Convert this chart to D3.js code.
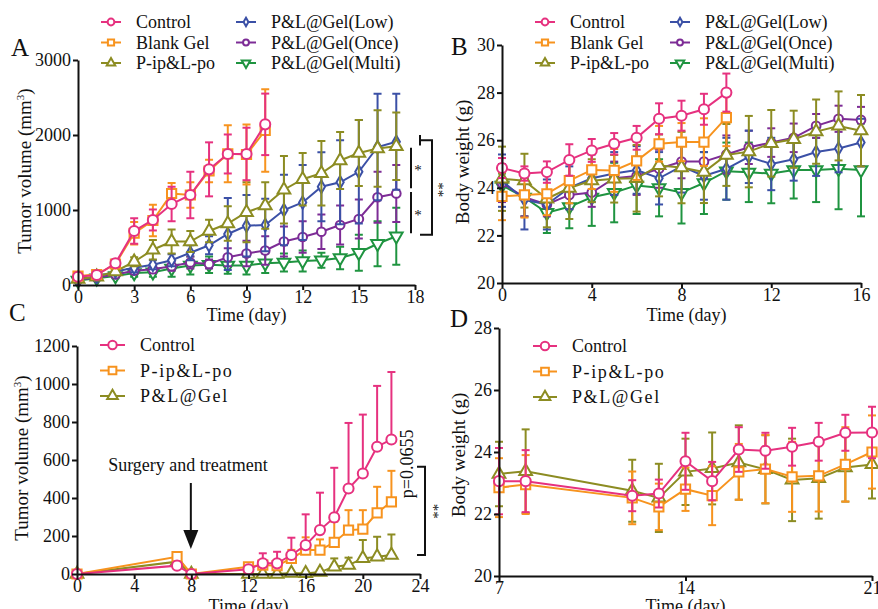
<!DOCTYPE html>
<html>
<head>
<meta charset="utf-8">
<script src="https://cdn.jsdelivr.net/npm/d3@7"></script>
<style>
  body { margin: 0; background: #fff; }
  svg text { font-family: "Liberation Serif", "DejaVu Serif", "Times New Roman", serif; fill: #111; }
</style>
</head>
<body>
<div class="canvas"></div>
<script>
// ---------- data ----------
// panel A: tumor volume (mm3) by day
const daysA = d3.range(0, 18);
const ctrlA = [111, 133, 290, 720, 867, 1080, 1200, 1542, 1747, 1747, 2142];
const ctrlAErr = [30, 30, 50, 170, 140, 230, 310, 360, 260, 350, 410];
const blankA = [120, 140, 280, 690, 860, 1220, 1200, 1520, 1750, 1740, 2060];
const blankAErr = [30, 30, 40, 150, 210, 140, 170, 150, 380, 400, 550];
const pipA = [80, 110, 180, 310, 470, 580, 580, 720, 820, 970, 1060, 1270, 1410, 1490, 1660, 1760, 1820, 1850];
const pipAErr = [20, 20, 30, 60, 130, 160, 140, 150, 230, 400, 310, 450, 350, 430, 380, 440, 510, 450];
const lowA = [80, 110, 180, 230, 270, 330, 430, 530, 680, 790, 800, 1000, 1100, 1310, 1370, 1510, 1840, 1910];
const lowAErr = [20, 20, 30, 60, 60, 80, 100, 120, 480, 410, 350, 470, 500, 460, 560, 690, 710, 640];
const onceA = [70, 100, 140, 190, 210, 250, 300, 280, 370, 420, 460, 580, 640, 710, 800, 880, 1170, 1220];
const onceAErr = [15, 15, 30, 40, 50, 60, 80, 60, 120, 170, 190, 200, 210, 230, 260, 260, 340, 380];
const multiA = [60, 90, 120, 160, 170, 220, 260, 270, 260, 260, 290, 300, 320, 330, 360, 430, 550, 650];
const multiAErr = [15, 15, 30, 50, 60, 110, 120, 110, 110, 120, 130, 120, 140, 100, 150, 240, 300, 380];

// panel B: body weight (g) by day
const daysB = d3.range(0, 17);
const ctrlB = [24.83, 24.6, 24.66, 25.17, 25.57, 25.85, 26.1, 26.9, 27.03, 27.3, 28.0];
const ctrlBErr = [0.42, 0.3, 0.45, 0.66, 0.48, 0.45, 0.5, 0.65, 0.63, 0.65, 0.8];
const blankB = [23.64, 23.7, 23.75, 24.3, 24.75, 24.73, 25.13, 25.85, 25.92, 25.92, 26.95];
const blankBErr = [1.0, 0.95, 0.9, 0.95, 0.8, 0.9, 0.8, 0.75, 0.8, 1.0, 1.2];
const pipB = [24.38, 24.3, 23.54, 23.99, 24.3, 24.38, 24.4, 24.94, 24.85, 24.66, 25.38, 25.52, 25.87, 26.04, 26.36, 26.6, 26.4];
const pipBErr = [1.35, 1.13, 1.2, 1.3, 0.9, 1.0, 1.4, 1.3, 1.5, 1.3, 1.3, 1.5, 1.4, 1.2, 1.35, 1.45, 1.5];
const lowB = [24.3, 23.5, 23.3, 24.0, 24.4, 24.6, 24.75, 24.4, 24.9, 24.5, 24.8, 25.3, 25.0, 25.2, 25.5, 25.65, 25.9];
const lowBErr = [1.1, 1.25, 1.05, 0.9, 1.0, 0.9, 1.0, 1.1, 1.1, 1.0, 1.3, 1.1, 1.1, 0.9, 1.0, 1.0, 1.0];
const onceB = [24.2, 23.6, 23.3, 23.7, 23.8, 24.4, 24.5, 24.8, 25.1, 25.1, 25.4, 25.7, 25.9, 26.1, 26.6, 26.9, 26.85];
const onceBErr = [0.8, 0.8, 0.5, 0.6, 0.6, 0.7, 0.8, 0.8, 0.7, 0.7, 0.8, 0.7, 0.6, 0.6, 0.5, 0.55, 0.55];
const multiB = [24.1, 23.6, 22.95, 23.2, 23.6, 23.8, 24.1, 24.0, 23.8, 24.2, 24.7, 24.65, 24.6, 24.75, 24.75, 24.8, 24.75];
const multiBErr = [0.5, 0.8, 0.85, 0.9, 1.2, 1.25, 1.2, 1.2, 1.3, 1.3, 1.2, 1.25, 1.25, 1.2, 1.35, 1.7, 1.95];

// panel C: tumor volume after surgery
const daysC = [0, 7, 8, 12, 13, 14, 15, 16, 17, 18, 19, 20, 21, 22];
const ctrlC = [0, 44, 0, 25, 56, 56, 100, 152, 231, 298, 450, 529, 670, 708];
const ctrlCErr = [0, 0, 0, 0, 53, 61, 91, 162, 197, 261, 345, 310, 320, 355];
const pipC = [0, 91, 0, 38, 47, 44, 82, 126, 126, 166, 231, 236, 322, 380];
const pipCErr = [0, 0, 0, 0, 0, 0, 45, 67, 56, 109, 105, 100, 137, 163];
const gelC = [0, 65, 0, 0, 0, 0, 5, 3, 10, 38, 47, 82, 91, 100];
const gelCErr = [0, 0, 0, 0, 0, 0, 0, 0, 0, 44, 39, 97, 105, 108];

// panel D: body weight after surgery
const daysD = [7, 8, 12, 13, 14, 15, 16, 17, 18, 19, 20, 21];
const ctrlD = [23.06, 23.06, 22.59, 22.66, 23.7, 23.06, 24.08, 24.04, 24.17, 24.33, 24.62, 24.63];
const ctrlDErr = [1.07, 1.0, 0.5, 0.45, 0.92, 0.62, 0.72, 0.58, 0.61, 0.61, 0.58, 0.83];
const pipD = [22.85, 22.95, 22.52, 22.23, 22.8, 22.59, 23.36, 23.45, 23.2, 23.23, 23.6, 24.0];
const pipDErr = [0.95, 0.95, 0.85, 0.75, 0.7, 0.95, 0.9, 1.1, 1.13, 1.15, 1.2, 1.18];
const gelD = [23.29, 23.38, 22.75, 22.52, 23.36, 23.47, 23.66, 23.44, 23.1, 23.15, 23.5, 23.6];
const gelDErr = [1.04, 1.35, 1.0, 1.1, 1.07, 1.16, 1.2, 1.1, 1.33, 1.3, 1.1, 1.1];

// tick values
const ticksAx = [0, 3, 6, 9, 12, 15, 18];
const ticksAy = [0, 1000, 2000, 3000];
const ticksBx = [0, 4, 8, 12, 16];
const ticksBy = [20, 22, 24, 26, 28, 30];
const ticksCx = [0, 4, 8, 12, 16, 20, 24];
const ticksCy = [0, 200, 400, 600, 800, 1000, 1200];
const ticksDx = [7, 14, 21];
const ticksDy = [20, 22, 24, 26, 28];

// ---------- styles ----------
const col = {
  pink: '#e6317f', orange: '#f7931e', olive: '#8c8c22',
  blue: '#3b50a6', purple: '#7d2c96', green: '#1f9440'
};
const shapes = {
  circle: {type: d3.symbolCircle, size: 80},
  square: {type: d3.symbolSquare, size: 85},
  triangle: {type: d3.symbolTriangle, size: 70},
  diamond: {type: d3.symbolDiamond, size: 45},
  smallCircle: {type: d3.symbolCircle, size: 60},
  triDown: {type: d3.symbolTriangle, size: 70, rot: 180}
};

const svg = d3.select('.canvas')
  .append('svg')
    .attr('width', 878)
    .attr('height', 609);

function drawPanel(p) {
  const x = d3.scaleLinear().domain(p.xDomain).range(p.xRange);
  const y = d3.scaleLinear().domain(p.yDomain).range(p.yRange);
  const g = svg.append('g');

  // series, drawn bottom to top
  p.series.slice().reverse().forEach(s => {
    const pts = s.values.map((v, i) => ({x: s.days[i], v: v, e: s.err[i]}));
    const sg = g.append('g');
    const cap = 4;
    pts.filter(d => d.e > 0).forEach(d => {
      const lo = p.upOnly ? d.v : d.v - d.e;
      const hi = d.v + d.e;
      sg.append('line')
        .attr('x1', x(d.x)).attr('x2', x(d.x))
        .attr('y1', y(lo)).attr('y2', y(hi))
        .attr('stroke', s.color).attr('stroke-width', 2);
      sg.append('line')
        .attr('x1', x(d.x) - cap).attr('x2', x(d.x) + cap)
        .attr('y1', y(hi)).attr('y2', y(hi))
        .attr('stroke', s.color).attr('stroke-width', 2);
      if (!p.upOnly) {
        sg.append('line')
          .attr('x1', x(d.x) - cap).attr('x2', x(d.x) + cap)
          .attr('y1', y(lo)).attr('y2', y(lo))
          .attr('stroke', s.color).attr('stroke-width', 2);
      }
    });
    sg.append('path')
      .datum(pts)
      .attr('fill', 'none')
      .attr('stroke', s.color)
      .attr('stroke-width', 2)
      .attr('d', d3.line().x(d => x(d.x)).y(d => y(d.v)));
    const sh = shapes[s.shape];
    sg.selectAll('path.pt')
      .data(pts)
      .enter()
      .append('path')
        .attr('class', 'pt')
        .attr('d', d3.symbol().type(sh.type).size(sh.size))
        .attr('transform', d => `translate(${x(d.x)},${y(d.v)}) rotate(${sh.rot || 0})`)
        .attr('fill', '#fff')
        .attr('stroke', s.color)
        .attr('stroke-width', 2);
  });

  // axes
  const xAxis = d3.axisBottom(x).tickValues(p.xTicks).tickFormat(d3.format('d'))
    .tickSize(5).tickSizeOuter(0).tickPadding(0);
  const yAxis = d3.axisLeft(y).tickValues(p.yTicks).tickFormat(d3.format('d'))
    .tickSize(5).tickSizeOuter(0).tickPadding(2);
  const xg = g.append('g')
    .attr('transform', `translate(0, ${p.yRange[0]})`)
    .call(xAxis);
  const yg = g.append('g')
    .attr('transform', `translate(${p.xRange[0]}, 0)`)
    .call(yAxis);
  [xg, yg].forEach(a => {
    a.select('.domain').attr('stroke', '#111').attr('stroke-width', 2);
    a.selectAll('.tick line').attr('stroke', '#111').attr('stroke-width', 2);
    a.selectAll('text')
      .attr('font-size', 18)
      .attr('fill', '#111');
  });

  // axis titles
  g.append('text')
    .attr('x', (p.xRange[0] + p.xRange[1]) / 2 + p.xTitleDx)
    .attr('y', p.xTitleY)
    .attr('text-anchor', 'middle')
    .attr('font-size', 18)
    .text('Time (day)');
  const yt = g.append('text')
    .attr('transform', `translate(${p.yTitleX}, ${p.yTitleY}) rotate(-90)`)
    .attr('text-anchor', 'middle')
    .attr('font-size', 19);
  yt.append('tspan').text(p.yTitle);
  if (p.yTitleSup) {
    yt.append('tspan').attr('font-size', 11).attr('dy', -7).text(p.yTitleSup);
    yt.append('tspan').attr('dy', 7).text(')');
  }

  // panel letter
  g.append('text')
    .attr('x', p.letterX).attr('y', p.letterY)
    .attr('font-size', 25)
    .text(p.letter);

  // legend
  p.series.forEach((s, i) => {
    const pos = p.legendPos(i);
    const lg = g.append('g').attr('transform', `translate(${pos[0]}, ${pos[1]})`);
    lg.append('line')
      .attr('x1', 0).attr('x2', p.legendLine)
      .attr('stroke', s.color).attr('stroke-width', 2);
    const sh = shapes[s.shape];
    lg.append('path')
      .attr('d', d3.symbol().type(sh.type).size(sh.size * p.legendScale))
      .attr('transform', `translate(${p.legendLine / 2}, 0) rotate(${sh.rot || 0})`)
      .attr('fill', '#fff')
      .attr('stroke', s.color)
      .attr('stroke-width', 2);
    lg.append('text')
      .attr('x', p.legendLine + 15)
      .attr('y', 6)
      .attr('font-size', 18)
      .attr('letter-spacing', s.spaced ? 1.6 : 0)
      .text(s.name);
  });

  return {g: g, x: x, y: y};
}

// ---------- panel A ----------
const A = drawPanel({
  letter: 'A', letterX: 11, letterY: 56,
  xDomain: [0, 18], xRange: [78, 415], yDomain: [0, 3000], yRange: [285, 60],
  xTicks: ticksAx, yTicks: ticksAy,
  xTitleDx: 0, xTitleY: 321, yTitleX: 31, yTitleY: 171,
  yTitle: 'Tumor volume (mm', yTitleSup: '3',
  legendLine: 20, legendScale: 0.45,
  legendPos: i => [101 + (i < 3 ? 0 : 135), 22 + (i % 3) * 20.5],
  series: [
    {name: 'Control', days: daysA, values: ctrlA, err: ctrlAErr, color: col.pink, shape: 'circle'},
    {name: 'Blank Gel', days: daysA, values: blankA, err: blankAErr, color: col.orange, shape: 'square'},
    {name: 'P-ip&L-po', days: daysA, values: pipA, err: pipAErr, color: col.olive, shape: 'triangle'},
    {name: 'P&L@Gel(Low)', days: daysA, values: lowA, err: lowAErr, color: col.blue, shape: 'diamond'},
    {name: 'P&L@Gel(Once)', days: daysA, values: onceA, err: onceAErr, color: col.purple, shape: 'smallCircle'},
    {name: 'P&L@Gel(Multi)', days: daysA, values: multiA, err: multiAErr, color: col.green, shape: 'triDown'}
  ]
});

// significance brackets in A
(function() {
  const y = A.y, g = A.g;
  const path = (pts) => g.append('path')
    .attr('d', d3.line()(pts))
    .attr('fill', 'none').attr('stroke', '#111').attr('stroke-width', 2);
  path([[411, y(1830)], [411, y(1290)]]);
  path([[411, y(1240)], [411, y(690)]]);
  path([[420, y(1930)], [432, y(1930)], [432, y(670)], [420, y(670)]]);
  path([[420, y(1860)], [420, y(2000)]]);
  g.append('text').attr('x', 418).attr('y', y(1560) + 7).attr('font-size', 15).attr('fill', '#444').attr('text-anchor', 'middle').text('*');
  g.append('text').attr('x', 418).attr('y', y(960) + 7).attr('font-size', 15).attr('fill', '#444').attr('text-anchor', 'middle').text('*');
  g.append('text')
    .attr('transform', `translate(448, ${y(1270)}) rotate(-90)`)
    .attr('text-anchor', 'middle').attr('font-size', 15).attr('fill', '#444')
    .text('**');
})();

// ---------- panel B ----------
drawPanel({
  letter: 'B', letterX: 451, letterY: 55,
  xDomain: [0, 16], xRange: [502, 861], yDomain: [20, 30], yRange: [283, 45],
  xTicks: ticksBx, yTicks: ticksBy,
  xTitleDx: 5, xTitleY: 321, yTitleX: 469, yTitleY: 162,
  yTitle: 'Body weight (g)',
  legendLine: 20, legendScale: 0.45,
  legendPos: i => [535 + (i < 3 ? 0 : 135), 22 + (i % 3) * 20.5],
  series: [
    {name: 'Control', days: daysB, values: ctrlB, err: ctrlBErr, color: col.pink, shape: 'circle'},
    {name: 'Blank Gel', days: daysB, values: blankB, err: blankBErr, color: col.orange, shape: 'square'},
    {name: 'P-ip&L-po', days: daysB, values: pipB, err: pipBErr, color: col.olive, shape: 'triangle'},
    {name: 'P&L@Gel(Low)', days: daysB, values: lowB, err: lowBErr, color: col.blue, shape: 'diamond'},
    {name: 'P&L@Gel(Once)', days: daysB, values: onceB, err: onceBErr, color: col.purple, shape: 'smallCircle'},
    {name: 'P&L@Gel(Multi)', days: daysB, values: multiB, err: multiBErr, color: col.green, shape: 'triDown'}
  ]
});

// ---------- panel C ----------
const C = drawPanel({
  letter: 'C', letterX: 9, letterY: 321,
  xDomain: [0, 24], xRange: [77, 420], yDomain: [0, 1200], yRange: [574, 346],
  xTicks: ticksCx, yTicks: ticksCy, upOnly: true,
  xTitleDx: 0, xTitleY: 612, yTitleX: 28, yTitleY: 458,
  yTitle: 'Tumor volume (mm', yTitleSup: '3',
  legendLine: 25, legendScale: 0.7,
  legendPos: i => [100, 345 + i * 25.5],
  series: [
    {name: 'Control', days: daysC, values: ctrlC, err: ctrlCErr, color: col.pink, shape: 'circle'},
    {name: 'P-ip&L-po', days: daysC, values: pipC, err: pipCErr, color: col.orange, shape: 'square', spaced: true},
    {name: 'P&L@Gel', days: daysC, values: gelC, err: gelCErr, color: col.olive, shape: 'triangle', spaced: true}
  ]
});

// annotations in C
(function() {
  const x = C.x, y = C.y, g = C.g;
  g.append('text')
    .attr('x', 188).attr('y', 471)
    .attr('text-anchor', 'middle').attr('font-size', 18)
    .text('Surgery and treatment');
  g.append('line')
    .attr('x1', x(8) - 0.5).attr('x2', x(8) - 0.5)
    .attr('y1', 483).attr('y2', 534)
    .attr('stroke', '#111').attr('stroke-width', 2);
  g.append('path')
    .attr('d', d3.line()([[x(8) - 8, 530], [x(8) + 7, 530], [x(8) - 0.5, 549]]))
    .attr('fill', '#111');
  g.append('path')
    .attr('d', d3.line()([[417, y(565)], [425, y(565)], [425, y(100)], [417, y(100)]]))
    .attr('fill', 'none').attr('stroke', '#111').attr('stroke-width', 2);
  g.append('text')
    .attr('transform', `translate(413, ${y(580)}) rotate(-90)`)
    .attr('text-anchor', 'middle').attr('font-size', 18)
    .text('p=0.0655');
  g.append('text')
    .attr('transform', `translate(443, ${y(330)}) rotate(-90)`)
    .attr('text-anchor', 'middle').attr('font-size', 15).attr('fill', '#444')
    .text('**');
})();

// ---------- panel D ----------
drawPanel({
  letter: 'D', letterX: 450, letterY: 327,
  xDomain: [7, 21], xRange: [499, 872], yDomain: [20, 28], yRange: [576, 328],
  xTicks: ticksDx, yTicks: ticksDy,
  xTitleDx: 0, xTitleY: 612, yTitleX: 465, yTitleY: 455,
  yTitle: 'Body weight (g)',
  legendLine: 24, legendScale: 0.7,
  legendPos: i => [533, 346 + i * 25.5],
  series: [
    {name: 'Control', days: daysD, values: ctrlD, err: ctrlDErr, color: col.pink, shape: 'circle'},
    {name: 'P-ip&L-po', days: daysD, values: pipD, err: pipDErr, color: col.orange, shape: 'square', spaced: true},
    {name: 'P&L@Gel', days: daysD, values: gelD, err: gelDErr, color: col.olive, shape: 'triangle', spaced: true}
  ]
});
</script>
</body>
</html>
